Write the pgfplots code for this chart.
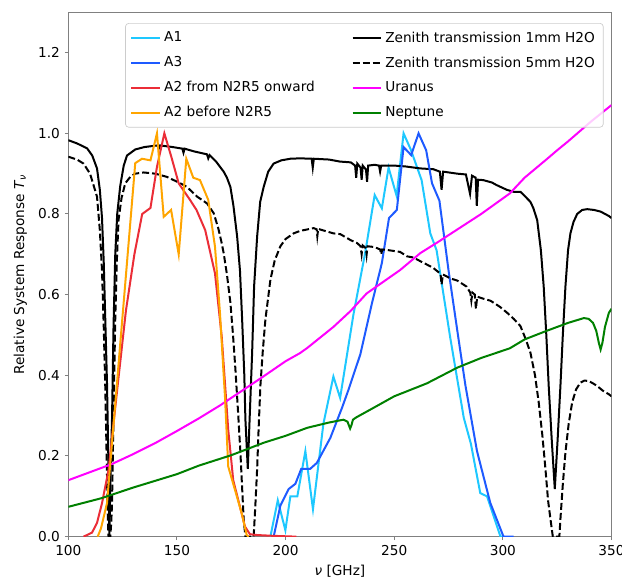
\documentclass[border=0pt]{standalone}
\usepackage{fontspec}
\setmainfont{DejaVu Sans}
\usepackage{pgfplots}
\pgfplotsset{compat=1.18}
\definecolor{cAone}{RGB}{30,200,255}
\definecolor{cAthree}{RGB}{30,90,255}
\definecolor{cRed}{RGB}{235,45,55}
\definecolor{cOr}{RGB}{255,165,0}
\definecolor{cMag}{RGB}{255,0,255}
\definecolor{cGr}{RGB}{0,128,0}
\definecolor{cFrame}{RGB}{128,128,128}
\definecolor{cLeg}{RGB}{204,204,204}
\begin{document}
\fontsize{8.2}{9.8}\selectfont
\begin{tikzpicture}
\begin{axis}[
 scale only axis, width=325.9pt, height=314.6pt,
 xmin=100, xmax=350, ymin=0, ymax=1.3,
 xtick={100,150,200,250,300,350},
 ytick={0,0.2,0.4,0.6,0.8,1.0,1.2},
 yticklabel style={/pgf/number format/.cd, fixed, fixed zerofill, precision=1},
 /pgf/number format/assume math mode=true,
 tick align=outside, tick pos=left, major tick length=2.1pt,
 axis line style={cFrame, line width=0.8pt},
 every tick/.style={cFrame, line width=0.6pt},
 ticklabel style={font=\fontsize{8.2}{9.8}\selectfont},
 xlabel={\textit{ν} [GHz]},
 ylabel={Relative System Response \textit{T}\textsubscript{\textit{ν}}},
 xlabel style={at={(axis description cs:0.5,0)}, anchor=center, yshift=-20.5pt},
 ylabel style={at={(axis description cs:-0.0884,0.5)}, anchor=center},
 legend columns=2,
 legend cell align=left,
 legend style={at={(0.9855,0.9796)}, anchor=north east, draw=cLeg, rounded corners=2pt,
   fill=white, fill opacity=0.8, text opacity=1, font=\fontsize{8.2}{9.8}\selectfont,
   /tikz/every even column/.append style={column sep=20pt}, row sep=3.5pt,
   inner ysep=3pt},
 every axis plot/.append style={line width=1.2pt},
]
% A1
\addplot[cAone] coordinates {
(193,0.0)(196.4,0.09)(199.9,0.016)(202.2,0.10)(205.4,0.10)(209.1,0.212)(212.6,0.068)
(217.4,0.28)(222,0.397)(225.1,0.344)(231.2,0.55)(236.6,0.703)(241,0.847)(244.3,0.814)
(247.4,0.915)(251.1,0.845)(254.3,1.0)(257.6,0.96)(262.6,0.884)(266.6,0.752)(269.5,0.71)
(275.7,0.496)(282,0.295)(285.3,0.23)(289.6,0.108)(292.7,0.10)(298.9,0.0)(300.5,0.0)};
\addlegendentry{A1}
% Zenith 1mm
\addplot[black] coordinates {
(100,0.983)(104,0.975)(108.6,0.963)(111,0.945)(113.2,0.913)(114.5,0.86)(115.5,0.79)
(116.3,0.68)(117,0.54)(117.8,0.38)(118.4,0.2)(118.9,0.0)(119.4,0.15)(120.1,0.29)
(120.8,0.52)(121.6,0.70)(122.5,0.80)(123.9,0.87)(125.5,0.92)(127,0.945)(130.8,0.96)
(135,0.966)(141,0.97)(141.6,0.962)(142.2,0.97)(148,0.966)(152.5,0.962)(153,0.952)(153.5,0.962)
(158,0.955)(163.8,0.948)(164.4,0.938)(165,0.946)(168,0.93)(171.5,0.905)(173,0.89)(174.6,0.867)
(176,0.82)(177.7,0.744)(179,0.66)(180,0.538)(181,0.40)(181.5,0.291)(182.6,0.168)
(183.5,0.30)(184.6,0.456)(185.5,0.62)(186.9,0.744)(188.3,0.83)(189.9,0.867)(192,0.905)
(194.5,0.925)(198,0.933)(202.2,0.937)(206.6,0.938)(212,0.937)(212.5,0.915)(213,0.937)
(220,0.935)(225,0.93)(230,0.928)(232,0.92)(232.5,0.89)(233,0.925)(234.5,0.915)(235,0.885)
(235.5,0.92)(237,0.91)(237.5,0.88)(238,0.92)(241,0.922)(243,0.92)(243.5,0.905)(244,0.92)
(250,0.92)(255,0.918)(262,0.913)(268,0.911)(271,0.905)(271.8,0.86)(272.5,0.905)(279,0.9)
(283,0.898)(284.9,0.85)(285.8,0.895)(287.5,0.89)(288,0.82)(288.6,0.885)(291,0.884)
(295,0.878)(297,0.872)(301.8,0.86)(305,0.855)(308.1,0.855)(310,0.845)(312.7,0.83)
(314,0.815)(315.8,0.785)(317.5,0.71)(318.8,0.62)(320,0.5)(321.1,0.374)(322.5,0.24)
(323.9,0.118)(325.2,0.24)(326.5,0.374)(327.6,0.5)(328.8,0.62)(330,0.71)(331.1,0.752)
(332.5,0.78)(334.2,0.8)(336.5,0.81)(338.8,0.812)(342,0.81)(345,0.806)(348.8,0.795)(350,0.79)};
\addlegendentry{Zenith transmission 1mm H2O}
% A3
\addplot[cAthree] coordinates {
(194.5,0.0)(197.6,0.077)(201.4,0.118)(204.5,0.131)(207.2,0.168)(211.3,0.168)(214.4,0.183)
(220.6,0.245)(226,0.32)(229,0.365)(234.4,0.452)(239.8,0.58)(244.3,0.678)(247.6,0.79)
(251.2,0.81)(254.3,0.966)(257.8,0.946)(261.2,1.0)(264.7,0.958)(267.4,0.876)(270.8,0.833)
(275,0.66)(279.6,0.49)(282.8,0.374)(288.1,0.212)(294.2,0.084)(300.3,0.0)(305,0.0)};
\addlegendentry{A3}
% Zenith 5mm
\addplot[black, dash pattern=on 4.2pt off 1.8pt] coordinates {
(100,0.942)(104,0.935)(107,0.925)(110,0.9)(113.2,0.843)(114.5,0.76)(115.5,0.66)(116.3,0.52)
(117,0.372)(117.7,0.18)(118.2,0.04)(118.5,0.0)(119.3,0.0)(119.7,0.03)(120.1,0.08)(120.8,0.3)
(121.6,0.54)(122.3,0.68)(123.1,0.785)(124.5,0.84)(126.2,0.876)(128.5,0.892)(130.8,0.9)
(134.7,0.903)(140,0.9)(145.4,0.892)(151.6,0.876)(154.6,0.867)(159.3,0.843)(163.9,0.826)
(166.9,0.802)(169,0.765)(170.5,0.73)(171.5,0.703)(173,0.65)(174.6,0.58)(175.8,0.5)
(176.9,0.415)(178,0.32)(179.2,0.209)(180,0.12)(180.7,0.044)(181.5,0.0)(185.3,0.0)
(186.1,0.08)(186.9,0.168)(187.6,0.27)(188.4,0.374)(189.5,0.46)(190.7,0.538)(193,0.637)
(195,0.685)(197.6,0.72)(200,0.738)(203.7,0.752)(206.6,0.758)(212.9,0.765)(214.3,0.762)
(214.6,0.745)(215,0.763)(222,0.752)(225.2,0.75)(230,0.735)(232.9,0.728)(234.5,0.72)
(235,0.70)(235.5,0.722)(237,0.715)(237.3,0.70)(237.7,0.72)(241,0.718)(243.5,0.712)
(244,0.70)(244.5,0.712)(246.5,0.711)(252.7,0.706)(255.9,0.695)(258.9,0.692)(262,0.683)
(266.7,0.67)(268,0.666)(271.3,0.652)(271.8,0.625)(272.4,0.65)(276,0.64)(279,0.635)
(283.3,0.62)(285,0.605)(285.5,0.585)(286,0.605)(287.1,0.60)(287.6,0.565)(288.2,0.595)
(291,0.59)(294.3,0.585)(298.6,0.57)(302,0.555)(305,0.54)(308.1,0.522)(310.5,0.49)
(312.7,0.456)(314.8,0.4)(316.5,0.333)(318.2,0.25)(319.6,0.168)(320.8,0.09)(321.9,0.044)
(323,0.0)(326,0.0)(326.5,0.044)(327.6,0.13)(328.8,0.209)(330.3,0.28)(331.9,0.333)
(333.7,0.365)(335.7,0.382)(337.5,0.387)(339.5,0.386)(341.5,0.38)(343.3,0.374)(346,0.362)
(348.8,0.353)(350,0.348)};
\addlegendentry{Zenith transmission 5mm H2O}
% A2 from N2R5
\addplot[cRed] coordinates {
(107,0.0)(110.9,0.01)(113.2,0.034)(115.5,0.083)(118.5,0.165)(122.4,0.36)(126.5,0.56)
(130.4,0.70)(134,0.80)(137.8,0.815)(140.8,0.917)(144.2,1.0)(147.5,0.94)(150.8,0.876)
(156,0.835)(159,0.81)(163,0.76)(167.5,0.653)(170.6,0.496)(173.6,0.265)(175.9,0.14)
(179,0.074)(181.3,0.025)(183.6,0.006)(187,0.004)(194.5,0.002)(205,0.0)};
\addlegendentry{A2 from N2R5 onward}
% Uranus
\addplot[cMag] coordinates {
(100,0.14)(110,0.16)(120,0.18)(130,0.205)(140,0.232)(150,0.262)(160,0.293)(170,0.326)
(180,0.362)(190,0.398)(200,0.435)(206.6,0.455)(210,0.468)(222,0.52)(230,0.56)(237.3,0.603)
(245,0.632)(252.7,0.661)(262,0.703)(270,0.73)(280,0.765)(290,0.8)(303.2,0.851)(310,0.89)
(320,0.935)(325,0.958)(330,0.98)(340.3,1.028)(350,1.07)};
\addlegendentry{Uranus}
% A2 before N2R5
\addplot[cOr] coordinates {
(113.5,0.0)(115,0.02)(117.8,0.083)(130.8,0.926)(133.9,0.937)(137.8,0.933)(140.8,1.0)
(143.9,0.793)(147.3,0.81)(150.8,0.70)(154.3,0.937)(157.5,0.89)(160.6,0.884)(164.4,0.835)
(167.5,0.719)(169.8,0.554)(172.1,0.347)(173.6,0.174)(176.7,0.116)(179.8,0.058)(182.1,0.004)
(183,0.0)};
\addlegendentry{A2 before N2R5}
% Neptune
\addplot[cGr] coordinates {
(100,0.074)(115,0.095)(130,0.122)(150,0.155)(160,0.176)(175,0.202)(190,0.233)(200,0.25)
(210,0.27)(220,0.283)(226.6,0.29)(228.5,0.285)(229.2,0.275)(229.7,0.268)(230.3,0.276)
(231,0.29)(232.6,0.296)(240,0.318)(250,0.348)(265,0.38)(279,0.419)(290,0.443)(303.2,0.467)
(310,0.489)(320,0.51)(330,0.53)(337.3,0.542)(339.5,0.54)(341.5,0.53)(343,0.51)(344.2,0.48)
(345,0.464)(345.8,0.48)(347,0.52)(348.8,0.555)(350,0.565)};
\addlegendentry{Neptune}
\end{axis}
\pgfresetboundingbox
\path[use as bounding box] (-41pt,-26.6pt) rectangle (332.2pt,322pt);
\end{tikzpicture}
\end{document}
